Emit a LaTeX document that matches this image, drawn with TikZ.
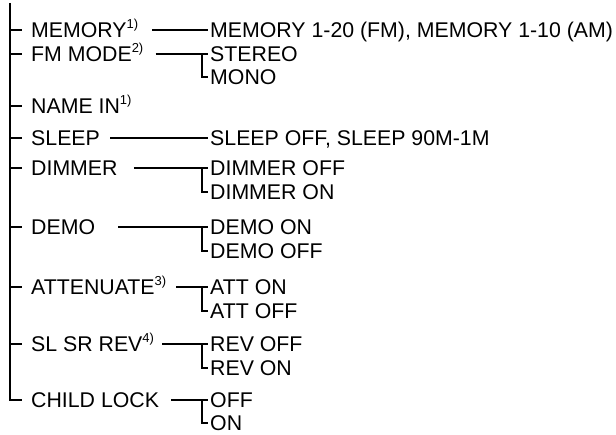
\documentclass[tikz,border=0pt]{standalone}
\usepackage{fontspec}
\setmainfont{Liberation Sans}
\usetikzlibrary{positioning}
\newcommand{\fnote}[1]{\raisebox{0.42em}{\fontsize{13}{13}\selectfont #1)}}

\begin{document}
\begin{tikzpicture}[x=1pt, y=-1pt, font=\fontsize{21.3}{25}\selectfont,
    lbl/.style={anchor=west, inner sep=0pt, text height=15pt, text depth=0pt},
    ln/.style={line width=1.8pt, black}]
  \useasboundingbox (0,0) rectangle (616,435);
  % menu items
  \coordinate (top) at (10,3);
  \node[lbl] (mem)  at (31,30)  {MEMORY\fnote{1}};
  \node[lbl] (fm)   at (31,54)  {FM MODE\fnote{2}};
  \node[lbl] (name) at (31,106) {NAME IN\fnote{1}};
  \node[lbl] (slp)  at (31,138) {SLEEP};
  \node[lbl] (dim)  at (31,168) {DIMMER};
  \node[lbl] (demo) at (31,227) {DEMO};
  \node[lbl] (att)  at (31,287) {ATTENUATE\fnote{3}};
  \node[lbl] (rev)  at (31,344) {SL SR REV\fnote{4}};
  \node[lbl] (chl)  at (31,400) {CHILD LOCK};
  % settings
  \node[lbl] (memv)  at (210,30)  {MEMORY 1-20 (FM), MEMORY 1-10 (AM)};
  \node[lbl] (ster)  at (210,54)  {STEREO};
  \node[lbl] (mono)  at (210,77)  {MONO};
  \node[lbl] (slpv)  at (210,138) {SLEEP OFF, SLEEP 90M-1M};
  \node[lbl] (dimof) at (210,168) {DIMMER OFF};
  \node[lbl] (dimon) at (210,192) {DIMMER ON};
  \node[lbl] (deon)  at (210,227) {DEMO ON};
  \node[lbl] (deof)  at (210,251) {DEMO OFF};
  \node[lbl] (atton) at (210,287) {ATT ON};
  \node[lbl] (attof) at (210,311) {ATT OFF};
  \node[lbl] (revof) at (210,344) {REV OFF};
  \node[lbl] (revon) at (210,368) {REV ON};
  \node[lbl] (off)   at (210,400) {OFF};
  \node[lbl] (on)    at (210,423) {ON};
  % tree
  \draw[ln] (top) |- ([xshift=-9pt]chl.west);
  \foreach \n in {mem,fm,name,slp,dim,demo,att,rev}
    \draw[ln] (top |- \n.west) -- ([xshift=-9pt]\n.west);
  \draw[ln] ([xshift=14pt]mem.east) -- ([xshift=-2pt]memv.west);
  \draw[ln] ([xshift=12pt]fm.east) -- ([xshift=-2pt]ster.west);
  \draw[ln] ([xshift=-8pt]ster.west) |- ([xshift=-2pt]mono.west);
  \draw[ln] ([xshift=10pt]slp.east) -- ([xshift=-2pt]slpv.west);
  \draw[ln] ([xshift=16pt]dim.east) -- ([xshift=-2pt]dimof.west);
  \draw[ln] ([xshift=-8pt]dimof.west) |- ([xshift=-2pt]dimon.west);
  \draw[ln] ([xshift=23pt]demo.east) -- ([xshift=-2pt]deon.west);
  \draw[ln] ([xshift=-8pt]deon.west) |- ([xshift=-2pt]deof.west);
  \draw[ln] ([xshift=10pt]att.east) -- ([xshift=-2pt]atton.west);
  \draw[ln] ([xshift=-8pt]atton.west) |- ([xshift=-2pt]attof.west);
  \draw[ln] ([xshift=8pt]rev.east) -- ([xshift=-2pt]revof.west);
  \draw[ln] ([xshift=-8pt]revof.west) |- ([xshift=-2pt]revon.west);
  \draw[ln] ([xshift=12pt]chl.east) -- ([xshift=-2pt]off.west);
  \draw[ln] ([xshift=-8pt]off.west) |- ([xshift=-2pt]on.west);
\end{tikzpicture}
\end{document}
